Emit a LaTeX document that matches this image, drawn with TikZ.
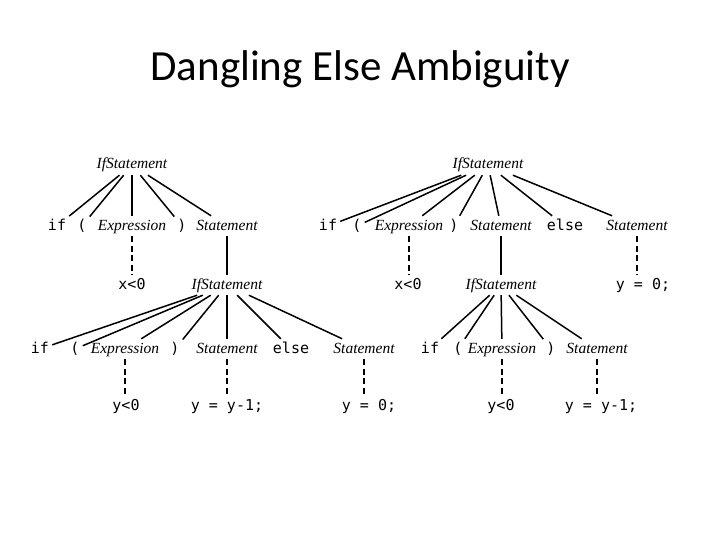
\documentclass[tikz,border=0pt]{standalone}
\usepackage{fontspec}
\setmainfont{Liberation Serif}
\setmonofont{DejaVu Sans Mono}
\newfontfamily\titlefont{Carlito}

\begin{document}
\begin{tikzpicture}[x=1pt, y=-1pt,
        nt/.style={font=\fontsize{15.5}{18}\selectfont\itshape, inner sep=3pt, text height=11pt, text depth=3pt},
        tm/.style={font=\fontsize{15}{18}\selectfont\ttfamily, inner sep=3pt, text height=11pt, text depth=3pt},
        edge/.style={line width=1.5pt},
        derive/.style={line width=1.5pt, dash pattern=on 6pt off 3.5pt}]
    \useasboundingbox (0,0) rectangle (720,540);

    \node[font=\fontsize{43}{50}\selectfont\titlefont, anchor=base] (title) at (360,81) {Dangling Else Ambiguity};

    % left tree: else bound to the inner if
    \node[nt] (a) at (132,165) {IfStatement};
    \node[tm] (a1) at (57,226) {if};
    \node[tm] (a2) at (82,226) {(};
    \node[nt] (a3) at (132,226) {Expression};
    \node[tm] (a4) at (182,226) {)};
    \node[nt] (a5) at (227,226) {Statement};
    \node[tm] (ax) at (132,285) {x<0};
    \node[nt] (b) at (227,285) {IfStatement};
    \node[tm] (b1) at (40,349) {if};
    \node[tm] (b2) at (75,349) {(};
    \node[nt] (b3) at (125,349) {Expression};
    \node[tm] (b4) at (175,349) {)};
    \node[nt] (b5) at (227,349) {Statement};
    \node[tm] (b6) at (291,349) {else};
    \node[nt] (b7) at (364,349) {Statement};
    \node[tm] (by1) at (126,406) {y<0};
    \node[tm] (by2) at (227,406) {y = y-1;};
    \node[tm] (by3) at (369,406) {y = 0;};

    \foreach \k in {1,...,5} \draw[edge] (a) -- (a\k);
    \foreach \k in {1,...,7} \draw[edge] (b) -- (b\k);
    \draw[derive] (a3) -- (a3 |- ax.north);
    \draw[edge] (a5) -- (a5 |- b.north);
    \draw[derive] (b3) -- (b3 |- by1.north);
    \draw[derive] (b5) -- (b5 |- by2.north);
    \draw[derive] (b7) -- (b7 |- by3.north);

    % right tree: else bound to the outer if
    \node[nt] (c) at (488,165) {IfStatement};
    \node[tm] (c1) at (328,226) {if};
    \node[tm] (c2) at (357,226) {(};
    \node[nt] (c3) at (409,226) {Expression};
    \node[tm] (c4) at (454,226) {)};
    \node[nt] (c5) at (501,226) {Statement};
    \node[tm] (c6) at (565,226) {else};
    \node[nt] (c7) at (637,226) {Statement};
    \node[tm] (cx) at (408,285) {x<0};
    \node[nt] (d) at (501,285) {IfStatement};
    \node[tm] (cy) at (643,285) {y = 0;};
    \node[tm] (d1) at (430,349) {if};
    \node[tm] (d2) at (458,349) {(};
    \node[nt] (d3) at (502,349) {Expression};
    \node[tm] (d4) at (551,349) {)};
    \node[nt] (d5) at (597,349) {Statement};
    \node[tm] (dy1) at (501,406) {y<0};
    \node[tm] (dy2) at (601,406) {y = y-1;};

    \foreach \k in {1,...,7} \draw[edge] (c) -- (c\k);
    \foreach \k in {1,...,5} \draw[edge] (d) -- (d\k);
    \draw[derive] (c3) -- (c3 |- cx.north);
    \draw[edge] (c5) -- (c5 |- d.north);
    \draw[derive] (c7) -- (c7 |- cy.north);
    \draw[derive] (d3) -- (d3 |- dy1.north);
    \draw[derive] (d5) -- (d5 |- dy2.north);
\end{tikzpicture}
\end{document}
